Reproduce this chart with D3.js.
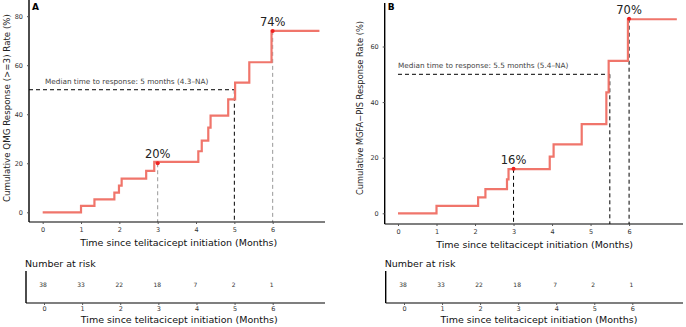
<!DOCTYPE html>
<html><head><meta charset="utf-8">
<script src="https://cdn.jsdelivr.net/npm/d3@7"></script>
<style>body{margin:0;background:#fff}svg{display:block}text{font-family:"DejaVu Sans",Verdana,sans-serif}</style>
</head><body><svg id="c" width="686" height="327"></svg>
<script>
// ---- data ----
const timesA = [0, 1.0, 1.35, 1.87, 1.99, 2.06, 2.7, 2.91, 4.06, 4.15, 4.32, 4.38, 4.84, 5.02, 5.39, 5.97, 7.22];
const ratesA = [0, 2.6, 5.3, 8.0, 10.9, 13.7, 16.9, 20.6, 24.9, 29.2, 34.5, 39.4, 46.1, 52.9, 61.2, 74.0, 74.0];
const timesB = [0, 1.0, 2.08, 2.27, 2.83, 2.87, 3.94, 4.04, 4.77, 5.41, 5.47, 5.97, 7.24];
const ratesB = [0, 2.7, 5.7, 8.7, 12.2, 15.9, 20.4, 24.8, 32.1, 43.5, 54.8, 69.8, 69.8];
const xTicks = [0, 1, 2, 3, 4, 5, 6];
const yTicksA = [0, 20, 40, 60, 80];
const yTicksB = [0, 20, 40, 60];
const atRisk = [38, 33, 22, 18, 7, 2, 1];
const markersA = [{t: 3, v: 20, label: "20%", color: "#999999"}, {t: 6, v: 74, label: "74%", color: "#999999"}];
const markersB = [{t: 3, v: 16, label: "16%", color: "#000"}, {t: 6, v: 70, label: "70%", color: "#000"}];
const medianA = {t: 5, text: "Median time to response: 5 months (4.3\u2013NA)"};
const medianB = {t: 5.5, text: "Median time to response: 5.5 months (5.4\u2013NA)"};

const svg = d3.select("#c");
const curveColor = "#F0756B";
const fmt = d3.format("d");

function panel(o) {
  const g = svg.append("g");
  const x = d3.scaleLinear().domain(o.xDom).range([o.left, o.right]);
  const y = d3.scaleLinear().domain(o.yDom).range([o.bottom, o.top]);

  // median line
  g.append("line").attr("x1", o.medStartAxis ? o.left : x(0)).attr("x2", x(o.median.t))
    .attr("y1", y(50)).attr("y2", y(50)).attr("stroke", "#000").attr("stroke-width", 1).attr("stroke-dasharray", "4,3");
  g.append("line").attr("x1", x(o.median.t)).attr("x2", x(o.median.t))
    .attr("y1", y(50)).attr("y2", o.bottom).attr("stroke", "#000").attr("stroke-width", 1).attr("stroke-dasharray", "4,3");
  g.append("text").attr("x", o.medTextX).attr("y", y(50) - 6).attr("font-size", 7.3).attr("fill", "#444").text(o.median.text);

  // marker verticals
  o.markers.forEach(m => {
    g.append("line").attr("x1", x(m.t)).attr("x2", x(m.t)).attr("y1", y(m.v)).attr("y2", o.bottom)
      .attr("stroke", m.color).attr("stroke-width", 1).attr("stroke-dasharray", "4,3");
  });

  // step curve
  const pts = o.times.map((t, i) => [t, o.rates[i]]);
  const line = d3.line().x(d => x(d[0])).y(d => y(d[1])).curve(d3.curveStepAfter);
  g.append("path").attr("d", line(pts)).attr("fill", "none").attr("stroke", curveColor).attr("stroke-width", 2.2);

  o.markers.forEach(m => {
    g.append("circle").attr("cx", x(m.t)).attr("cy", y(m.v)).attr("r", 2).attr("fill", "#EE2222");
    g.append("text").attr("x", x(m.t)).attr("y", y(m.v) - 5).attr("text-anchor", "middle")
      .attr("font-size", 11.5).attr("fill", "#222").text(m.label);
  });

  // axes
  const ax = g.append("g").attr("transform", `translate(0,${o.bottom})`)
    .call(d3.axisBottom(x).tickValues(xTicks).tickFormat(fmt).tickSize(2).tickPadding(3));
  ax.select(".domain").attr("stroke", "#000").attr("stroke-width", 1.2).attr("d", `M${o.left},0H${o.right}`);
  ax.selectAll(".tick line").attr("stroke", "#555");
  ax.selectAll(".tick text").attr("font-size", 6.5).attr("fill", "#333").attr("font-family", "DejaVu Sans");
  const ay = g.append("g").attr("transform", `translate(${o.left},0)`)
    .call(d3.axisLeft(y).tickValues(o.yTicks).tickFormat(fmt).tickSize(2).tickPadding(4));
  ay.select(".domain").attr("stroke", "#000").attr("stroke-width", 1.4).attr("d", `M0,${o.top}V${o.bottom}`);
  ay.selectAll(".tick line").attr("stroke", "#555");
  ay.selectAll(".tick text").attr("font-size", 6.5).attr("fill", "#333").attr("font-family", "DejaVu Sans");

  g.append("text").attr("x", (x(0) + x(7.2)) / 2 - 2).attr("y", o.bottom + 24).attr("text-anchor", "middle")
    .attr("font-size", 9.5).attr("fill", "#111").text("Time since telitacicept initiation (Months)");
  g.append("text").attr("transform", `translate(${o.ylabX},${o.ylabY}) rotate(-90)`).attr("text-anchor", "middle")
    .attr("font-size", o.ylabSize).attr("fill", "#222").text(o.ylab);
  g.append("text").attr("x", o.left + 3).attr("y", 10).attr("font-size", 9).attr("font-weight", "bold").text(o.letter);

  // risk table
  const xt = d3.scaleLinear().domain([0, 6]).range(o.tRange);
  g.append("text").attr("x", o.tLeft - 1).attr("y", 267).attr("font-size", 9.5).attr("fill", "#111").text("Number at risk");
  g.selectAll(null).data(atRisk).enter().append("text").attr("x", (d, i) => xt(xTicks[i]) - 1).attr("y", 287)
    .attr("text-anchor", "middle").attr("font-size", 6).attr("fill", "#333").text(d => d);
  const at = g.append("g").attr("transform", `translate(0,303)`)
    .call(d3.axisBottom(xt).tickValues(xTicks).tickFormat(fmt).tickSize(2).tickPadding(1.5));
  at.select(".domain").attr("stroke", "#000").attr("stroke-width", 1.2).attr("d", `M${o.tLeft},0H${o.right}`);
  at.selectAll(".tick line").attr("stroke", "#555");
  at.selectAll(".tick text").attr("font-size", 6.5).attr("fill", "#333").attr("font-family", "DejaVu Sans");
  g.append("line").attr("x1", o.tLeft).attr("x2", o.tLeft).attr("y1", 271).attr("y2", 303).attr("stroke", "#000").attr("stroke-width", 1.4);
  g.append("text").attr("x", (xt(0) + xt(7.2)) / 2 - 2).attr("y", 322.5).attr("text-anchor", "middle")
    .attr("font-size", 9.5).attr("fill", "#111").text("Time since telitacicept initiation (Months)");
}

panel({letter: "A", left: 29, right: 325, top: 0, bottom: 222, xDom: [-0.357, 7.365], yDom: [-3.96, 86.6],
  times: timesA, rates: ratesA, yTicks: yTicksA, markers: markersA, median: medianA, medStartAxis: true, medTextX: 45,
  ylab: "Cumulative QMG Response (>=3) Rate (%)", ylabX: 10, ylabY: 108, ylabSize: 8.7, tRange: [44, 272.7], tLeft: 26});
panel({letter: "B", left: 384.7, right: 683, top: 3, bottom: 224, xDom: [-0.345, 7.4], yDom: [-3.85, 75.65],
  times: timesB, rates: ratesB, yTicks: yTicksB, markers: markersB, median: medianB, medStartAxis: false, medTextX: 398,
  ylab: "Cumulative MGFA\u2212PIS Response Rate (%)", ylabX: 363, ylabY: 108, ylabSize: 8.3, tRange: [404, 632.3], tLeft: 385.7});
</script></body></html>
